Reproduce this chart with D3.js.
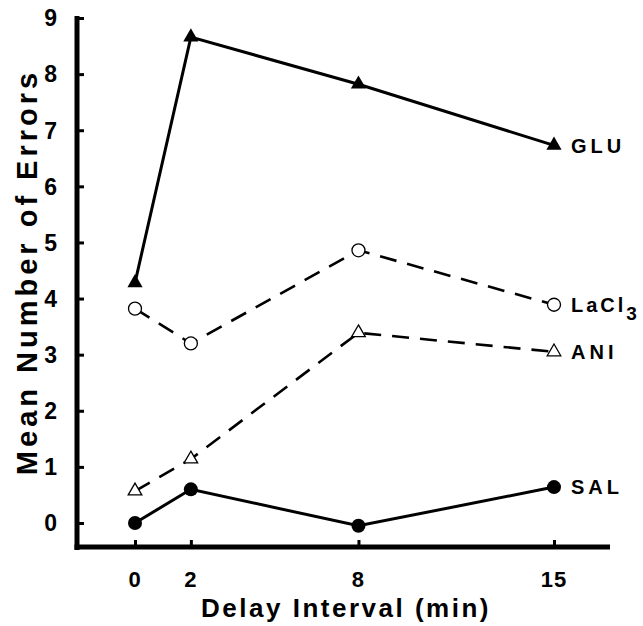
<!DOCTYPE html>
<html><head><meta charset="utf-8">
<script src="https://cdn.jsdelivr.net/npm/d3@7"></script>
<style>body{margin:0;background:#fff}svg{display:block}text{font-family:"Liberation Sans",Arial,sans-serif;font-weight:bold;fill:#000}</style>
</head><body><svg id="c" width="643" height="626"></svg>
<script>
const delays = [0, 2, 8, 15];
const xTicks = [0, 2, 8, 15];
const yTicks = [0,1,2,3,4,5,6,7,8,9];
const glu   = [4.28, 8.66, 7.82, 6.73];
const lacl3 = [3.82, 3.2, 4.86, 3.89];
const ani   = [0.57, 1.14, 3.39, 3.05];
const sal   = [0.0, 0.6, -0.05, 0.64];
const seriesNames = ["GLU", "LaCl", "ANI", "SAL"];

const svg = d3.select("#c");
const x = d3.scaleLinear().domain([0, 15]).range([135, 554]);
const y = d3.scaleLinear().domain([0, 9]).range([523, 18]);

const xAxisY = 547, yAxisX = 77;
svg.append("line").attr("x1", yAxisX).attr("x2", yAxisX).attr("y1", y(9)-2).attr("y2", xAxisY+3).attr("stroke","#000").attr("stroke-width",5);
svg.append("line").attr("x1", yAxisX-2.5).attr("x2", 610).attr("y1", xAxisY).attr("y2", xAxisY).attr("stroke","#000").attr("stroke-width",5);

const yAx = d3.axisRight(y).tickValues(yTicks).tickSize(7).tickFormat("");
const gy = svg.append("g").attr("transform",`translate(${yAxisX},0)`).call(yAx);
gy.select(".domain").remove();
gy.selectAll(".tick line").attr("stroke","#000").attr("stroke-width",3);
yTicks.forEach(t=>{
  svg.append("text").attr("x",57).attr("y",y(t)).attr("dy","0.36em").attr("text-anchor","end").attr("font-size",23).text(t);
});

const xAx = d3.axisTop(x).tickValues(xTicks).tickSize(7).tickFormat("");
const gx = svg.append("g").attr("transform",`translate(0,${xAxisY})`).call(xAx);
gx.select(".domain").remove();
gx.selectAll(".tick line").attr("stroke","#000").attr("stroke-width",3);
xTicks.forEach(t=>{
  svg.append("text").attr("x",x(t)).attr("y",587).attr("text-anchor","middle").attr("font-size",22).attr("letter-spacing",1).text(t);
});

svg.append("text").attr("x",346).attr("y",617).attr("text-anchor","middle").attr("font-size",26).attr("letter-spacing",2.5).text("Delay Interval (min)");
svg.append("text").attr("transform","translate(37,272) rotate(-90)").attr("text-anchor","middle").attr("font-size",29).attr("letter-spacing",4).text("Mean Number of Errors");

const line = d3.line().x((d,i)=>x(delays[i])).y(d=>y(d));
function drawLine(vals, dash, w){
  svg.append("path").attr("d",line(vals)).attr("fill","none").attr("stroke","#000").attr("stroke-width",w).attr("stroke-dasharray",dash||null);
}
drawLine(glu, null, 3);
drawLine(sal, null, 3);
drawLine(lacl3, "17,11", 2.6);
drawLine(ani, "17,11", 2.6);

const triFill = d3.symbol().type(d3.symbolTriangle).size(100);
const triOpen = d3.symbol().type(d3.symbolTriangle).size(80);
glu.forEach((v,i)=>svg.append("path").attr("d",triFill()).attr("transform",`translate(${x(delays[i])},${y(v)})`).attr("fill","#000"));
ani.forEach((v,i)=>svg.append("path").attr("d",triOpen()).attr("transform",`translate(${x(delays[i])},${y(v)})`).attr("fill","#fff").attr("stroke","#000").attr("stroke-width",1.3));
lacl3.forEach((v,i)=>svg.append("circle").attr("cx",x(delays[i])).attr("cy",y(v)).attr("r",6.5).attr("fill","#fff").attr("stroke","#000").attr("stroke-width",1.3));
sal.forEach((v,i)=>svg.append("circle").attr("cx",x(delays[i])).attr("cy",y(v)).attr("r",7).attr("fill","#000"));

const lx = x(15) + 17;
const labelVals = [glu[3], lacl3[3], ani[3], sal[3]];
seriesNames.forEach((n,i)=>{
  const t = svg.append("text").attr("x",lx).attr("y",y(labelVals[i])).attr("dy","0.36em").attr("font-size",20).attr("letter-spacing",n==="LaCl"?3:4).text(n);
  if(n==="LaCl"){ t.append("tspan").attr("dy",8).attr("font-size",19).attr("letter-spacing",0).text("3"); }
});
</script></body></html>
